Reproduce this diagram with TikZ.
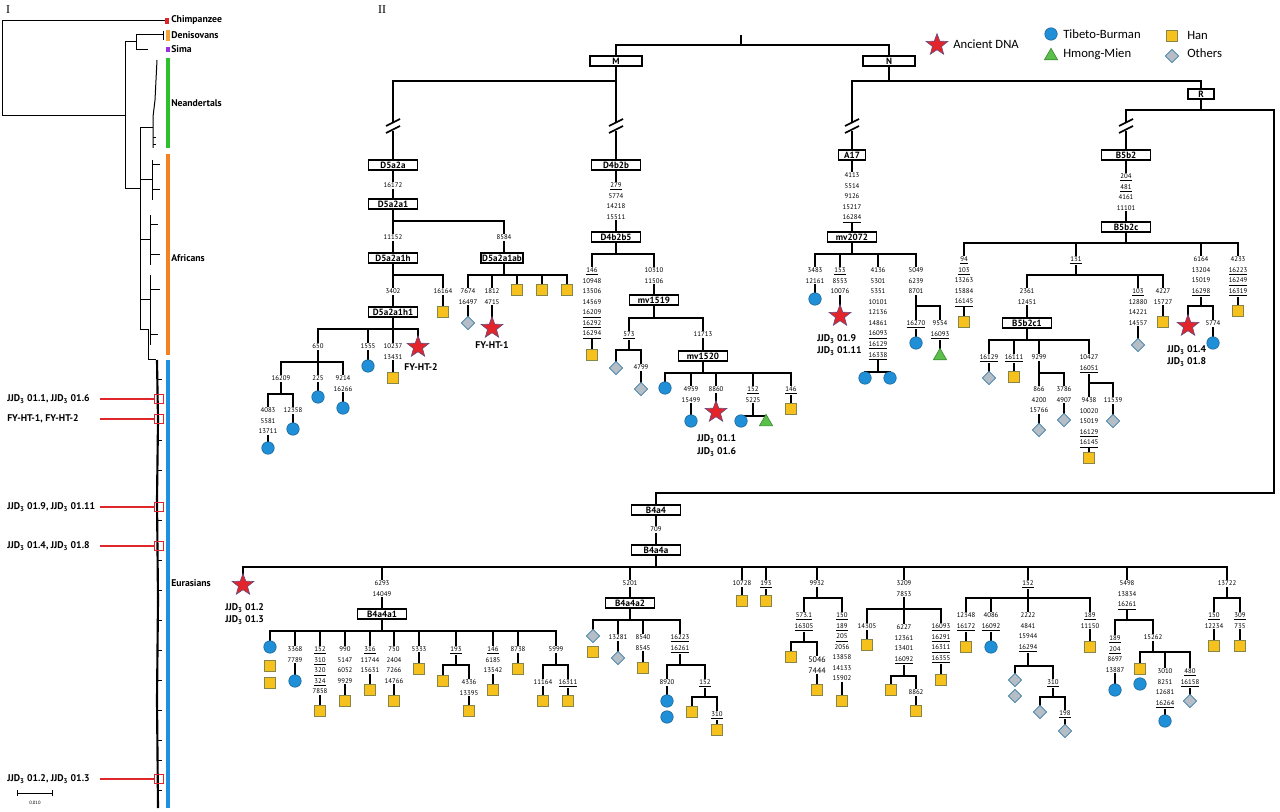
\documentclass[tikz,border=0pt]{standalone}
\usepackage{fontspec}
\setmainfont{PT Sans}
\newfontfamily\legf{Carlito}
\newfontfamily\serf{Liberation Serif}
\usetikzlibrary{shapes.geometric}
\definecolor{tbb}{HTML}{1F8FD8}
\definecolor{tbe}{HTML}{1A5F90}
\definecolor{hy}{HTML}{F6C11C}
\definecolor{he}{HTML}{86864A}
\definecolor{og}{HTML}{B5BEC6}
\definecolor{oe}{HTML}{3A7CA5}
\definecolor{hg}{HTML}{5CBF4B}
\definecolor{hge}{HTML}{3A8F33}
\definecolor{ar}{HTML}{E3242B}
\definecolor{ae}{HTML}{6B4A78}
\definecolor{mk}{HTML}{E0262A}
\definecolor{cpz}{HTML}{E2232A}
\definecolor{den}{HTML}{F2A43A}
\definecolor{sim}{HTML}{9B30E0}
\definecolor{nea}{HTML}{2CC02C}
\definecolor{afr}{HTML}{F58220}
\definecolor{eur}{HTML}{1E90E0}
\tikzset{
 ln/.style={line width=2.2pt,line cap=rect},
 tl/.style={line width=0.75pt},
 hb/.style={draw,line width=1.2pt,fill=white,minimum width=37pt,minimum height=7.6pt,inner sep=0pt,font=\bfseries\fontsize{6.8}{7.5}\selectfont},
 num/.style={fill=white,inner sep=0.5pt,align=center,font=\fontsize{5.1}{7.9}\selectfont},
 circ/.style={circle,fill=tbb,draw=tbe,line width=0.4pt,minimum size=9.4pt,inner sep=0pt},
 sq/.style={rectangle,fill=hy,draw=he,line width=0.7pt,minimum size=8.8pt,inner sep=0pt},
 dia/.style={diamond,fill=og,draw=oe,line width=0.6pt,minimum size=10.2pt,inner sep=0pt},
 tri/.style={regular polygon,regular polygon sides=3,fill=hg,draw=hge,line width=0.5pt,minimum size=11.5pt,inner sep=0pt},
 stara/.style={star,star points=5,star point ratio=2.4,fill=ar,draw=ae,line width=0.5pt,minimum size=17pt,inner sep=0pt},
 lbl/.style={font=\bfseries\fontsize{7.3}{8}\selectfont,inner sep=0pt},
 leg/.style={font=\legf\fontsize{9.5}{11}\selectfont,anchor=west,inner sep=0pt},
 bar/.style={line width=2.6pt},
 mkl/.style={draw=mk,line width=1.5pt},
 mks/.style={draw=mk,line width=1.2pt,minimum size=7pt,inner sep=0pt,rectangle},
}
\newcounter{nn}
\newcommand\stk[3]{\stepcounter{nn}\node[num,anchor=north] (t\thenn) at (#1,#2-3) {#3};}
\newcommand\sy[3]{\stepcounter{nn}\node[#1] (s\thenn) at (#2,#3) {};}
\newcommand\UL[1]{\underline{#1}}
\newcommand\brk[2]{\fill[white] (#1-5,#2-4) rectangle (#1+5,#2+4);
 \draw[line width=1.3pt] (#1-7,#2-1)--(#1+7,#2-8) (#1-7,#2+6)--(#1+7,#2-1);}
\newcommand\JJD{JJD\textsubscript{3}}
\begin{document}
\begin{tikzpicture}[x=0.75pt,y=-0.75pt]
\useasboundingbox (0,0) rectangle (1280,812);
% ---------------- panel I ----------------
\node[font=\serf\fontsize{9}{10}\selectfont] (pI) at (8,10) {I};
\node[font=\serf\fontsize{9}{10}\selectfont] (pII) at (382,10) {II};
\draw[tl] (2,21) -- (165,21);
\draw[tl] (2,21) -- (2,116) -- (125,116);
\draw[tl] (125,42) -- (125,189);
\draw[tl] (125,42) -- (136,42);
\draw[tl] (136,35) -- (136,50);
\draw[tl] (136,35) -- (163,35) (163,31) -- (163,40);
\draw[tl] (136,50) -- (148,50);
\draw[tl] (125,189) -- (140,189);
\draw[tl] (140,128) -- (140,330);
\draw[tl] (140,128) -- (153,128);
\draw[tl] (153,148) -- (153,117) -- (155,100) -- (156,80) -- (157,60);
\draw[tl] (153,138) -- (156,138) (153,145) -- (156,145);
\draw[tl] (140,180) -- (152,180) (152,160) -- (152,200) (152,165)--(160,165) (152,190)--(160,190);
\draw[tl] (140,240) -- (150,240) (150,215) -- (150,265) (150,225)--(158,225) (150,255)--(160,255);
\draw[tl] (140,300) -- (150,300) (150,275) -- (150,345) (150,290)--(160,290) (150,335)--(158,335);
\draw[tl] (140,330) -- (148,330) -- (148,360) -- (156,360);
\draw[line width=1.6pt] (157,360) -- (158,420) -- (157,500) -- (158,600) -- (157,700) -- (158,808);
\foreach \yy in {380,440,470,520,560,590,620,650,680,710,740,760,790}{\draw[tl] (158,\yy) -- (162,\yy);}
\draw[bar,cpz] (167,18) -- (167,24);
\draw[bar,den] (168,30) -- (168,41);
\draw[bar,sim] (168,47) -- (168,52);
\draw[bar,nea] (168,58) -- (168,148);
\draw[bar,afr] (168,154) -- (168,355);
\draw[bar,eur] (168,360) -- (168,808);
\node[lbl,anchor=west] (gChim) at (171,20) {Chimpanzee};
\node[lbl,anchor=west] (gDen) at (171,35) {Denisovans};
\node[lbl,anchor=west] (gSim) at (171,49) {Sima};
\node[lbl,anchor=west] (gNea) at (171,103) {Neandertals};
\node[lbl,anchor=west] (gAfr) at (171,258) {Africans};
\node[lbl,anchor=west] (gEur) at (171,583) {Eurasians};
\foreach \yy/\tx [count=\i] in {399/{\JJD{} 01.1, \JJD{} 01.6},419/{FY-HT-1, FY-HT-2},507/{\JJD{} 01.9, \JJD{} 01.11},546/{\JJD{} 01.4, \JJD{} 01.8},779/{\JJD{} 01.2, \JJD{} 01.3}}{
 \node[lbl,anchor=west] (mt\i) at (7,\yy) {\tx};
 \node[mks] (mb\i) at (159,\yy) {};
 \draw[mkl] (100,\yy) -- (mb\i.west);
}
\draw[tl] (17,793) -- (52,793) (17,790) -- (17,796) (52,790) -- (52,796);
\node[font=\fontsize{3.5}{4}\selectfont,inner sep=0pt] (scl) at (35,803) {0.010};
% ---------------- legend ----------------
\node[stara] (lg1) at (937,45) {};
\node[leg] (lt1) at (953,44) {Ancient DNA};
\node[circ] (lg2) at (1051,34) {};
\node[leg] (lt2) at (1063,34) {Tibeto-Burman};
\node[tri] (lg3) at (1051,56) {};
\node[leg] (lt3) at (1063,54) {Hmong-Mien};
\node[sq] (lg4) at (1172,36) {};
\node[leg] (lt4) at (1187,35) {Han};
\node[dia] (lg5) at (1172,56) {};
\node[leg] (lt5) at (1187,53) {Others};
% ---------------- top tree lines ----------------
\draw[ln] (741,36) -- (741,45);
\draw[ln] (616,45) -- (889,45);
\draw[ln] (616,45) -- (616,254);
\draw[ln] (393,81) -- (616,81);
\draw[ln] (393,81) -- (393,329);
\draw[ln] (889,45) -- (889,81);
\draw[ln] (852,81) -- (1201,81);
\draw[ln] (852,81) -- (852,254);
\draw[ln] (1201,81) -- (1201,110);
\draw[ln] (1126,110) -- (1274,110);
\draw[ln] (1126,110) -- (1126,243);
\draw[ln] (1274,110) -- (1274,493) -- (656,493) -- (656,567);
% D5a2a
\draw[ln] (393,221) -- (504,221) -- (504,275);
\draw[ln] (393,275) -- (443,275) -- (443,312);
\draw[ln] (318,329) -- (418,329);
\draw[ln] (318,329) -- (318,362) (368,329) -- (368,366) (393,329) -- (393,378) (418,329) -- (418,347);
\draw[ln] (281,362) -- (343,362);
\draw[ln] (281,362) -- (281,394) (318,362) -- (318,397) (343,362) -- (343,408);
\draw[ln] (268,394) -- (293,394);
\draw[ln] (268,394) -- (268,448) (293,394) -- (293,429);
\draw[ln] (468,275) -- (567,275);
\draw[ln] (468,275) -- (468,323) (492,275) -- (492,328) (517,275) -- (517,290) (542,275) -- (542,290) (567,275) -- (567,290);
% D4b2b
\draw[ln] (592,254) -- (654,254);
\draw[ln] (592,254) -- (592,355) (654,254) -- (654,318);
\draw[ln] (629,318) -- (703,318);
\draw[ln] (629,318) -- (629,350) (703,318) -- (703,373);
\draw[ln] (616,350) -- (641,350);
\draw[ln] (616,350) -- (616,368) (641,350) -- (641,389);
\draw[ln] (665,373) -- (791,373);
\draw[ln] (665,373) -- (665,388) (691,373) -- (691,421) (716,373) -- (716,412) (753,373) -- (753,416) (791,373) -- (791,409);
\draw[ln] (741,416) -- (766,416);
\draw[ln] (741,416) -- (741,421) (766,416) -- (766,421);
% A17
\draw[ln] (815,254) -- (916,254);
\draw[ln] (815,254) -- (815,299) (840,254) -- (840,316) (878,254) -- (878,372) (916,254) -- (916,343);
\draw[ln] (865,372) -- (890,372);
\draw[ln] (865,372) -- (865,378) (890,372) -- (890,378);
\draw[ln] (916,306) -- (940,306) -- (940,355);
% B5b2
\draw[ln] (964,243) -- (1238,243);
\draw[ln] (964,243) -- (964,322) (1076,243) -- (1076,275) (1201,243) -- (1201,306) (1238,243) -- (1238,311);
\draw[ln] (1027,275) -- (1163,275);
\draw[ln] (1027,275) -- (1027,340) (1138,275) -- (1138,345) (1163,275) -- (1163,322);
\draw[ln] (989,340) -- (1089,340);
\draw[ln] (989,340) -- (989,378) (1014,340) -- (1014,377) (1039,340) -- (1039,430) (1089,340) -- (1089,458);
\draw[ln] (1039,373) -- (1064,373) -- (1064,420);
\draw[ln] (1089,383) -- (1113,383) -- (1113,421);
\draw[ln] (1188,306) -- (1213,306);
\draw[ln] (1188,306) -- (1188,326) (1213,306) -- (1213,343);
% ---------------- bottom tree lines ----------------
\draw[ln] (243,567) -- (1227,567);
\draw[ln] (243,567) -- (243,585) (382,567) -- (382,631) (630,567) -- (630,620) (742,567) -- (742,601) (766,567) -- (766,601) (817,567) -- (817,598) (904,567) -- (904,609) (1028,567) -- (1028,598) (1127,567) -- (1127,620) (1227,567) -- (1227,598);
\draw[ln] (270,631) -- (556,631);
\draw[ln] (270,631) -- (270,647) (295,631) -- (295,681) (320,631) -- (320,711) (345,631) -- (345,701) (370,631) -- (370,690) (394,631) -- (394,701) (419,631) -- (419,669) (456,631) -- (456,665) (493,631) -- (493,690) (518,631) -- (518,669) (556,631) -- (556,665);
\draw[ln] (443,665) -- (469,665);
\draw[ln] (443,665) -- (443,681) (469,665) -- (469,711);
\draw[ln] (543,665) -- (568,665);
\draw[ln] (543,665) -- (543,701) (568,665) -- (568,701);
\draw[ln] (593,620) -- (680,620);
\draw[ln] (593,620) -- (593,636) (618,620) -- (618,658) (643,620) -- (643,668) (680,620) -- (680,665);
\draw[ln] (667,665) -- (705,665);
\draw[ln] (667,665) -- (667,701) (705,665) -- (705,697);
\draw[ln] (692,697) -- (717,697);
\draw[ln] (692,697) -- (692,712) (717,697) -- (717,730);
\draw[ln] (804,598) -- (842,598);
\draw[ln] (804,598) -- (804,642) (842,598) -- (842,701);
\draw[ln] (791,642) -- (817,642);
\draw[ln] (791,642) -- (791,657) (817,642) -- (817,690);
\draw[ln] (867,609) -- (941,609);
\draw[ln] (867,609) -- (867,645) (904,609) -- (904,676) (941,609) -- (941,680);
\draw[ln] (891,676) -- (916,676);
\draw[ln] (891,676) -- (891,690) (916,676) -- (916,711);
\draw[ln] (966,598) -- (1090,598);
\draw[ln] (966,598) -- (966,647) (991,598) -- (991,647) (1028,598) -- (1028,666) (1090,598) -- (1090,647);
\draw[ln] (1015,666) -- (1053,666);
\draw[ln] (1015,666) -- (1015,680) (1053,666) -- (1053,697);
\draw[ln] (1040,697) -- (1065,697);
\draw[ln] (1040,697) -- (1040,712) (1065,697) -- (1065,731);
\draw[ln] (1115,620) -- (1153,620);
\draw[ln] (1115,620) -- (1115,690) (1153,620) -- (1153,652);
\draw[ln] (1140,652) -- (1190,652);
\draw[ln] (1140,652) -- (1140,669) (1165,652) -- (1165,721) (1190,652) -- (1190,701);
\draw[ln] (1214,598) -- (1240,598);
\draw[ln] (1214,598) -- (1214,646) (1240,598) -- (1240,646);
% ---------------- breaks ----------------
\brk{393}{127}\brk{616}{127}\brk{852}{127}\brk{1126}{127}
% ---------------- number stacks (top) ----------------
\stk{393}{185}{16172}
\stk{393}{237}{11152}
\stk{393}{291}{3402}
\stk{504}{237}{8584}
\stk{443}{291}{16164}
\stk{318}{346}{650}
\stk{368}{346}{1555}
\stk{393}{346}{10237\\13431}
\stk{281}{378}{16209}
\stk{318}{378}{225}
\stk{343}{378}{9214\\16266}
\stk{268}{410}{4083\\5581\\13711}
\stk{293}{410}{12358}
\stk{468}{291}{7674\\16497}
\stk{492}{291}{1812\\4715}
\stk{616}{185}{\UL{279}\\5774\\14218\\15511}
\stk{592}{270}{\UL{146}\\10948\\13506\\14569\\\UL{16209}\\\UL{16292}\\\UL{16294}}
\stk{654}{270}{10310\\11506}
\stk{629}{334}{\UL{573}}
\stk{703}{334}{11713}
\stk{641}{367}{4799}
\stk{691}{389}{4959\\15499}
\stk{716}{389}{8860}
\stk{753}{389}{\UL{152}\\5225}
\stk{791}{389}{\UL{146}}
\stk{852}{175}{4113\\5514\\9126\\15217\\\UL{16284}}
\stk{815}{270}{3483\\12161}
\stk{840}{270}{\UL{153}\\8553\\10076}
\stk{878}{270}{4136\\5301\\5351\\10101\\12136\\14861\\\UL{16093}\\\UL{16129}\\\UL{16338}}
\stk{916}{270}{5049\\6239\\8701}
\stk{916}{323}{\UL{16270}}
\stk{940}{323}{9554\\\UL{16093}}
\stk{1126}{176}{\UL{204}\\\UL{481}\\4161\\11101}
\stk{964}{259}{\UL{94}\\\UL{103}\\13263\\15884\\\UL{16145}}
\stk{1076}{259}{\UL{131}}
\stk{1027}{291}{2361\\12451}
\stk{989}{357}{\UL{16129}}
\stk{1014}{357}{\UL{16111}}
\stk{1039}{357}{9299}
\stk{1039}{389}{866\\4200\\15766}
\stk{1064}{389}{3786\\4907}
\stk{1089}{357}{10427\\\UL{16051}}
\stk{1089}{400}{9438\\10020\\15019\\\UL{16129}\\\UL{16145}}
\stk{1113}{400}{11539}
\stk{1138}{291}{\UL{103}\\12880\\14221\\14557}
\stk{1163}{291}{4227\\15727}
\stk{1201}{259}{6164\\13204\\15019\\\UL{16298}}
\stk{1213}{323}{5774}
\stk{1238}{259}{4233\\\UL{16223}\\\UL{16249}\\\UL{16319}}
% ---------------- number stacks (bottom) ----------------
\stk{656}{529}{709}
\stk{382}{583}{6293\\14049}
\stk{295}{649}{3368\\7789}
\stk{320}{649}{\UL{152}\\\UL{310}\\\UL{320}\\\UL{324}\\7858}
\stk{345}{649}{990\\5147\\6052\\9929}
\stk{370}{649}{\UL{316}\\11744\\15631}
\stk{394}{649}{750\\2404\\7266\\14766}
\stk{419}{649}{5333}
\stk{456}{649}{\UL{193}}
\stk{469}{682}{4336\\13395}
\stk{493}{649}{\UL{146}\\6185\\13542}
\stk{518}{649}{8738}
\stk{556}{649}{5999}
\stk{543}{682}{11164}
\stk{568}{682}{\UL{16311}}
\stk{630}{583}{5201}
\stk{618}{637}{13281}
\stk{643}{637}{8540\\8545}
\stk{680}{637}{\UL{16223}\\\UL{16261}}
\stk{667}{682}{8920}
\stk{705}{682}{\UL{152}}
\stk{717}{714}{\UL{310}}
\stk{742}{583}{10728}
\stk{766}{583}{\UL{193}}
\stk{817}{583}{9932}
\stk{804}{615}{\UL{573.1}\\\UL{16305}}
\stepcounter{nn}\node[num,anchor=north,font=\fontsize{6}{7.9}\selectfont] (t\thenn) at (817,656) {5046\\7444};
\stk{842}{615}{\UL{150}\\\UL{189}\\\UL{205}\\2056\\13858\\14133\\15902}
\stk{904}{583}{3209\\7853}
\stk{867}{626}{14305}
\stk{904}{627}{6227\\12361\\13401\\\UL{16092}}
\stk{916}{692}{8862}
\stk{941}{626}{\UL{16093}\\\UL{16291}\\\UL{16311}\\\UL{16355}}
\stk{1028}{583}{\UL{152}}
\stk{966}{615}{12348\\\UL{16172}}
\stk{991}{615}{4086\\\UL{16092}}
\stk{1028}{615}{2222\\4841\\15944\\\UL{16294}}
\stk{1053}{682}{\UL{310}}
\stk{1065}{713}{\UL{198}}
\stk{1090}{615}{\UL{189}\\11150}
\stk{1127}{583}{5498\\13834\\\UL{16261}}
\stk{1115}{638}{\UL{189}\\\UL{204}\\8697\\13887}
\stk{1153}{637}{15262}
\stk{1165}{671}{3010\\8251\\12681\\\UL{16264}}
\stk{1190}{671}{\UL{480}\\\UL{16158}}
\stk{1227}{583}{13722}
\stk{1214}{615}{\UL{150}\\12234}
\stk{1240}{615}{\UL{309}\\735}
% ---------------- haplogroup boxes ----------------
\node[hb,minimum width=39pt] (M) at (616,61) {M};
\node[hb,minimum width=39pt] (N) at (889,61) {N};
\node[hb,minimum width=19.5pt] (R) at (1201,94) {R};
\node[hb] (D5a2a) at (393,165) {D5a2a};
\node[hb] (D5a2a1) at (393,204) {D5a2a1};
\node[hb] (D5a2a1h) at (393,258) {D5a2a1h};
\node[hb] (D5a2a1h1) at (393,312) {D5a2a1h1};
\node[hb,minimum width=31.5pt] (D5a2a1ab) at (502,258) {D5a2a1ab};
\node[hb] (D4b2b) at (616,165) {D4b2b};
\node[hb] (D4b2b5) at (616,237) {D4b2b5};
\node[hb] (mv1519) at (654,300) {mv1519};
\node[hb] (mv1520) at (703,356) {mv1520};
\node[hb,minimum width=20pt] (A17) at (852,155) {A17};
\node[hb] (mv2072) at (852,237) {mv2072};
\node[hb] (B5b2) at (1126,155) {B5b2};
\node[hb] (B5b2c) at (1126,227) {B5b2c};
\node[hb] (B5b2c1) at (1027,323) {B5b2c1};
\node[hb] (B4a4) at (656,510) {B4a4};
\node[hb] (B4a4a) at (656,550) {B4a4a};
\node[hb] (B4a4a1) at (382,614) {B4a4a1};
\node[hb] (B4a4a2) at (630,603) {B4a4a2};
% ---------------- symbols (top) ----------------
\sy{sq}{443}{312}\sy{circ}{368}{366}\sy{sq}{393}{378}\sy{stara}{418}{347}
\sy{circ}{318}{397}\sy{circ}{343}{408}\sy{circ}{268}{448}\sy{circ}{293}{429}
\sy{dia}{468}{323}\sy{stara}{492}{328}\sy{sq}{517}{290}\sy{sq}{542}{290}\sy{sq}{567}{290}
\sy{sq}{592}{355}\sy{dia}{616}{368}\sy{dia}{641}{389}\sy{circ}{665}{388}\sy{circ}{691}{421}
\sy{stara}{716}{412}\sy{circ}{741}{421}\sy{tri}{766}{422}\sy{sq}{791}{409}
\sy{circ}{815}{299}\sy{stara}{840}{316}\sy{circ}{865}{378}\sy{circ}{890}{378}\sy{circ}{916}{343}\sy{tri}{940}{356}
\sy{sq}{964}{322}\sy{dia}{989}{378}\sy{sq}{1014}{377}\sy{dia}{1039}{430}\sy{dia}{1064}{420}
\sy{sq}{1089}{458}\sy{dia}{1113}{421}\sy{dia}{1138}{345}\sy{sq}{1163}{322}\sy{stara}{1188}{326}
\sy{circ}{1213}{343}\sy{sq}{1238}{311}
% ---------------- symbols (bottom) ----------------
\sy{stara}{243}{585}
\sy{circ}{270}{647}\sy{sq}{270}{666}\sy{sq}{270}{683}\sy{circ}{295}{681}\sy{sq}{320}{711}
\sy{sq}{345}{701}\sy{sq}{370}{690}\sy{sq}{394}{701}\sy{sq}{419}{669}\sy{sq}{443}{681}
\sy{sq}{469}{711}\sy{sq}{493}{690}\sy{sq}{518}{669}\sy{sq}{543}{701}\sy{sq}{568}{701}
\sy{dia}{593}{636}\sy{sq}{593}{652}\sy{dia}{618}{658}\sy{sq}{643}{668}\sy{circ}{667}{701}
\sy{circ}{667}{717}\sy{sq}{692}{712}\sy{sq}{717}{730}
\sy{sq}{742}{601}\sy{sq}{766}{601}\sy{sq}{791}{657}\sy{sq}{817}{690}\sy{sq}{842}{701}
\sy{sq}{867}{645}\sy{sq}{891}{690}\sy{sq}{916}{711}\sy{sq}{941}{680}
\sy{sq}{966}{647}\sy{circ}{991}{647}\sy{dia}{1015}{680}\sy{dia}{1015}{696}\sy{dia}{1040}{712}
\sy{dia}{1065}{731}\sy{sq}{1090}{647}
\sy{circ}{1115}{690}\sy{sq}{1140}{669}\sy{circ}{1140}{684}\sy{circ}{1165}{721}\sy{dia}{1190}{701}
\sy{sq}{1214}{646}\sy{sq}{1240}{646}
% ---------------- sample labels ----------------
\node[lbl,anchor=center] (fy2) at (421,367) {FY-HT-2};
\node[lbl,anchor=center] (fy1) at (492,345) {FY-HT-1};
\node[lbl,anchor=west] (j11) at (697,439) {\JJD{} 01.1};
\node[lbl,anchor=west] (j16) at (697,452) {\JJD{} 01.6};
\node[lbl,anchor=west] (j19) at (817,339) {\JJD{} 01.9};
\node[lbl,anchor=west] (j111) at (817,351) {\JJD{} 01.11};
\node[lbl,anchor=west] (j14) at (1167,350) {\JJD{} 01.4};
\node[lbl,anchor=west] (j18) at (1167,362) {\JJD{} 01.8};
\node[lbl,anchor=west] (j12) at (225,608) {\JJD{} 01.2};
\node[lbl,anchor=west] (j13) at (225,620) {\JJD{} 01.3};
\end{tikzpicture}
\end{document}
